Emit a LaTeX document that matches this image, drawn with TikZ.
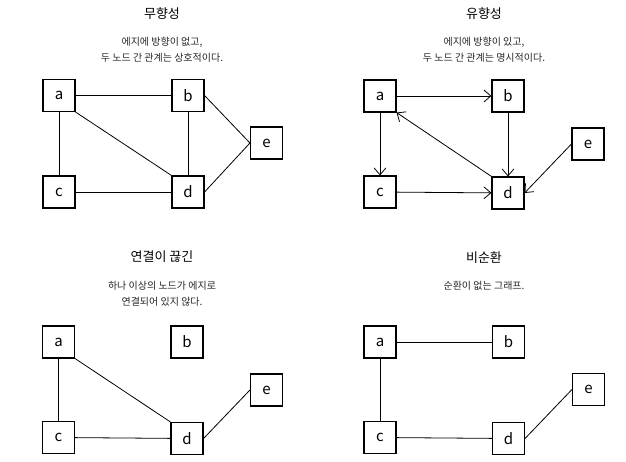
\documentclass[tikz,border=0pt]{standalone}
\usepackage{fontspec}
\setmainfont{Noto Sans CJK KR}
\usepackage{tikz}
\usetikzlibrary{arrows.meta}
\tikzset{-, >={Straight Barb[length=7pt,width=12pt]}, font=\small}
\tikzset{vertex/.style={shape=rectangle, draw, line width=1.1pt, fill=white,
    inner sep=0pt, minimum size=32pt, font=\fontsize{15}{15}\selectfont}}
\tikzset{title/.style={font=\fontsize{13}{14}\selectfont}}
\tikzset{desc/.style={font=\fontsize{10}{15.5}\selectfont, align=center,
    text=black!85}}

\begin{document}
\begin{tikzpicture}[x=1pt,y=-1pt,line width=.8pt]
    \useasboundingbox (0,0) rectangle (626,462);
    % undirected
    \node[title] (t1) at (162,14) {무향성};
    \node[desc] (d1) at (162,49.5) {에지에 방향이 없고,\\두 노드 간 관계는 상호적이다.};
    \node[vertex] (a1) at (59,95.5) {a};
    \node[vertex] (b1) at (188,95.5) {b};
    \node[vertex] (c1) at (59,192) {c};
    \node[vertex] (d1x) at (188,192) {d};
    \node[vertex] (e1) at (266.5,143) {e};
    \path (a1) edge (b1);
    \path (a1) edge (c1);
    \path (a1.south east) edge (d1x.north west);
    \path (b1) edge (d1x);
    \path (c1) edge (d1x);
    \path (b1.east) edge (e1.west);
    \path (d1x.east) edge (e1.west);
    % directed
    \node[title] (t2) at (484,14) {유향성};
    \node[desc] (d2) at (484,49.5) {에지에 방향이 있고,\\두 노드 간 관계는 명시적이다.};
    \node[vertex] (a2) at (380,96) {a};
    \node[vertex] (b2) at (508,96) {b};
    \node[vertex] (c2) at (380,192) {c};
    \node[vertex] (d2x) at (508,193) {d};
    \node[vertex] (e2) at (588,144) {e};
    \path[->] (a2) edge (b2);
    \path[->] (a2) edge (c2);
    \path[->] (b2) edge (d2x);
    \path[->] (c2) edge (d2x);
    \path[->] (d2x.north west) edge (a2.south east);
    \path[->] (e2.west) edge (d2x.east);
    % disconnected
    \node[title] (t3) at (162,257) {연결이 끊긴};
    \node[desc] (d3) at (162,294) {하나 이상의 노드가 에지로\\연결되어 있지 않다.};
    \node[vertex] (a3) at (58.5,342) {a};
    \node[vertex] (b3) at (187,342) {b};
    \node[vertex] (c3) at (58.5,437.5) {c};
    \node[vertex] (d3x) at (187,438.5) {d};
    \node[vertex] (e3) at (266.5,390) {e};
    \path (a3) edge (c3);
    \path (a3.south east) edge (d3x.north west);
    \path (c3) edge (d3x);
    \path (d3x.east) edge (e3.west);
    % acyclic
    \node[title] (t4) at (484,258) {비순환};
    \node[desc] (d4) at (484,286) {순환이 없는 그래프.};
    \node[vertex] (a4) at (380,342) {a};
    \node[vertex] (b4) at (508.5,342) {b};
    \node[vertex] (c4) at (380,437.5) {c};
    \node[vertex] (d4x) at (508.5,438.5) {d};
    \node[vertex] (e4) at (588.5,389.5) {e};
    \path (a4) edge (b4);
    \path (a4) edge (c4);
    \path (c4) edge (d4x);
    \path (d4x.east) edge (e4.west);
  \end{tikzpicture}
\end{document}
